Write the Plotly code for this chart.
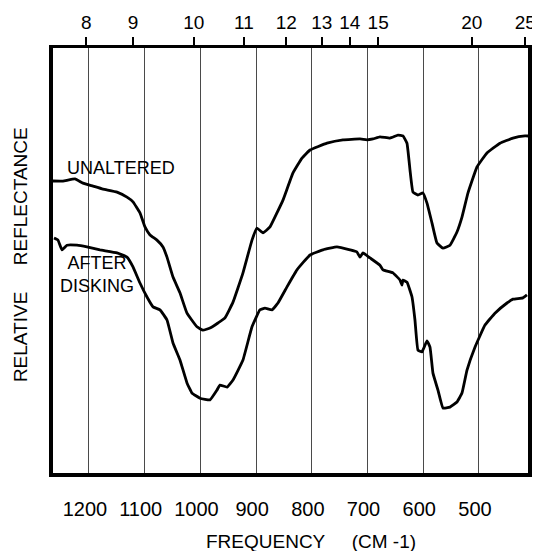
import plotly.graph_objects as go

# Wavenumber (cm-1) and relative reflectance (arbitrary 0-100)
unaltered_wn = [1264.6, 1246.7, 1225.1, 1210.8, 1192.8, 1174.9, 1149.7, 1131.8, 1121.0, 1108.5,
                1099.5, 1090.5, 1078.0, 1067.2, 1060.0, 1049.2, 1036.7, 1024.1, 1006.2, 995.4,
                982.8, 968.5, 955.9, 941.5, 923.6, 907.4, 898.5, 887.7, 875.1, 862.6,
                851.8, 833.8, 817.7, 803.3, 772.8, 744.1, 713.6, 701.0, 690.3, 677.7,
                659.7, 645.4, 636.4, 629.2, 623.8, 618.5, 609.5, 600.5, 593.3, 584.3,
                575.4, 564.6, 552.0, 539.5, 530.5, 519.7, 503.6, 485.6, 462.3, 439.0,
                417.4, 412.0]
unaltered_r = [68.7, 68.7, 69.2, 68.2, 67.5, 66.8, 66.1, 64.9, 63.8, 61.2,
               57.9, 56.0, 54.8, 53.2, 50.8, 46.1, 42.4, 37.6, 34.4, 33.6,
               34.1, 35.3, 36.5, 40.2, 47.1, 54.8, 57.6, 56.5, 57.9, 61.2,
               64.2, 70.6, 74.1, 76.0, 77.6, 78.4, 78.6, 78.4, 78.6, 79.1,
               78.8, 79.5, 79.3, 77.6, 71.3, 66.1, 65.4, 65.9, 63.5, 58.8,
               54.1, 52.9, 53.6, 56.7, 60.2, 65.9, 72.0, 75.3, 77.6, 78.8,
               79.3, 79.3]

disked_wn = [1262.8, 1255.6, 1248.5, 1239.5, 1221.5, 1203.6, 1180.3, 1149.7, 1131.8, 1121.0,
             1108.5, 1095.9, 1085.1, 1072.6, 1060.0, 1049.2, 1036.7, 1024.1, 1015.1, 1000.8,
             982.8, 970.3, 964.9, 952.3, 941.5, 923.6, 907.4, 893.1, 884.1, 871.5,
             860.8, 844.6, 826.7, 803.3, 780.0, 754.9, 731.5, 719.0, 713.6, 708.2,
             695.6, 677.7, 672.3, 654.4, 641.8, 638.2, 636.4, 629.2, 620.2, 614.9,
             609.5, 602.3, 593.3, 587.9, 582.6, 573.6, 564.6, 552.0, 539.5, 530.5,
             521.5, 507.2, 489.2, 471.3, 449.7, 439.0, 421.1, 413.9]
disked_r = [55.3, 54.8, 52.5, 53.6, 53.6, 53.2, 52.5, 51.8, 50.8, 48.5,
            44.7, 41.4, 39.1, 38.4, 36.0, 30.6, 26.6, 21.2, 18.8, 17.6,
            17.2, 19.5, 20.7, 20.2, 21.9, 26.6, 34.4, 38.4, 38.8, 38.4,
            40.0, 43.8, 47.8, 51.3, 52.5, 53.2, 52.5, 52.0, 50.8, 51.8,
            50.6, 48.9, 47.8, 47.1, 45.4, 44.2, 45.4, 44.9, 41.4, 36.0,
            28.9, 28.5, 31.1, 29.6, 23.5, 19.5, 15.3, 15.5, 16.7, 18.8,
            24.2, 29.6, 34.8, 37.6, 40.0, 40.9, 41.2, 41.9]

freq_ticks = [1200, 1100, 1000, 900, 800, 700, 600, 500]
micron_labels = ["8", "9", "10", "11", "12", "13", "14", "15", "20", "25"]
micron_tick_wn = [1205, 1121, 1012, 922, 846, 782, 732, 681, 513, 417]

x_range = [1264.6, 412.0]
FONT = "Liberation Sans"

fig = go.Figure()
for xs, ys in [(unaltered_wn, unaltered_r), (disked_wn, disked_r)]:
    fig.add_trace(go.Scatter(x=xs, y=ys, mode="lines",
                             line=dict(color="black", width=2.8, shape="spline", smoothing=0.3),
                             showlegend=False, hoverinfo="skip"))
# invisible trace to activate top axis
fig.add_trace(go.Scatter(x=[x_range[0]], y=[None], xaxis="x2", mode="lines", showlegend=False))

# the page body adds an 8px offset, so the figure is sized to fit the window
fig.update_layout(
    width=532, height=543,
    margin=dict(l=45, r=12, t=40, b=78, autoexpand=False),
    paper_bgcolor="white", plot_bgcolor="white",
    font=dict(family=FONT, color="black"),
    xaxis=dict(range=x_range, tickvals=freq_ticks, ticktext=[str(v) for v in freq_ticks],
               showgrid=True, gridcolor="#4a4a4a", gridwidth=1, zeroline=False,
               showline=True, linecolor="black", linewidth=4, ticks="", automargin=False,
               tickfont=dict(family=FONT, size=20, color="black"),
               ticklabelstandoff=15, ticklabelshift=4),
    xaxis2=dict(range=x_range, overlaying="x", side="top", tickvals=micron_tick_wn,
                ticktext=micron_labels, showgrid=False, zeroline=False, automargin=False,
                showline=True, linecolor="black", linewidth=3,
                ticks="outside", ticklen=8, tickwidth=2, tickcolor="black",
                tickfont=dict(family=FONT, size=19, color="black")),
    yaxis=dict(range=[0, 100], showticklabels=False, ticks="", showgrid=False, zeroline=False,
               showline=True, linecolor="black", linewidth=4, mirror=True, automargin=False),
)

fig.add_annotation(x=1142.6, y=71.8, text="UNALTERED", showarrow=False,
                   font=dict(family=FONT, size=18, color="black"))
fig.add_annotation(x=1185.6, y=46.6, text="AFTER<br>DISKING", showarrow=False,
                   font=dict(family=FONT, size=18, color="black"))
fig.add_annotation(xref="paper", yref="paper", x=0.543, y=-0.16, xanchor="center", yanchor="middle",
                   text="FREQUENCY\u00a0\u00a0\u00a0\u00a0\u00a0(CM\u00a0-1)", showarrow=False,
                   font=dict(family=FONT, size=19, color="black"))
fig.add_annotation(xref="paper", yref="paper", x=-0.0695, y=0.515, xanchor="center", yanchor="middle",
                   textangle=-90,
                   text="RELATIVE\u00a0\u00a0\u00a0\u00a0\u00a0REFLECTANCE", showarrow=False,
                   font=dict(family=FONT, size=19, color="black"))

fig.write_html("out.html")
